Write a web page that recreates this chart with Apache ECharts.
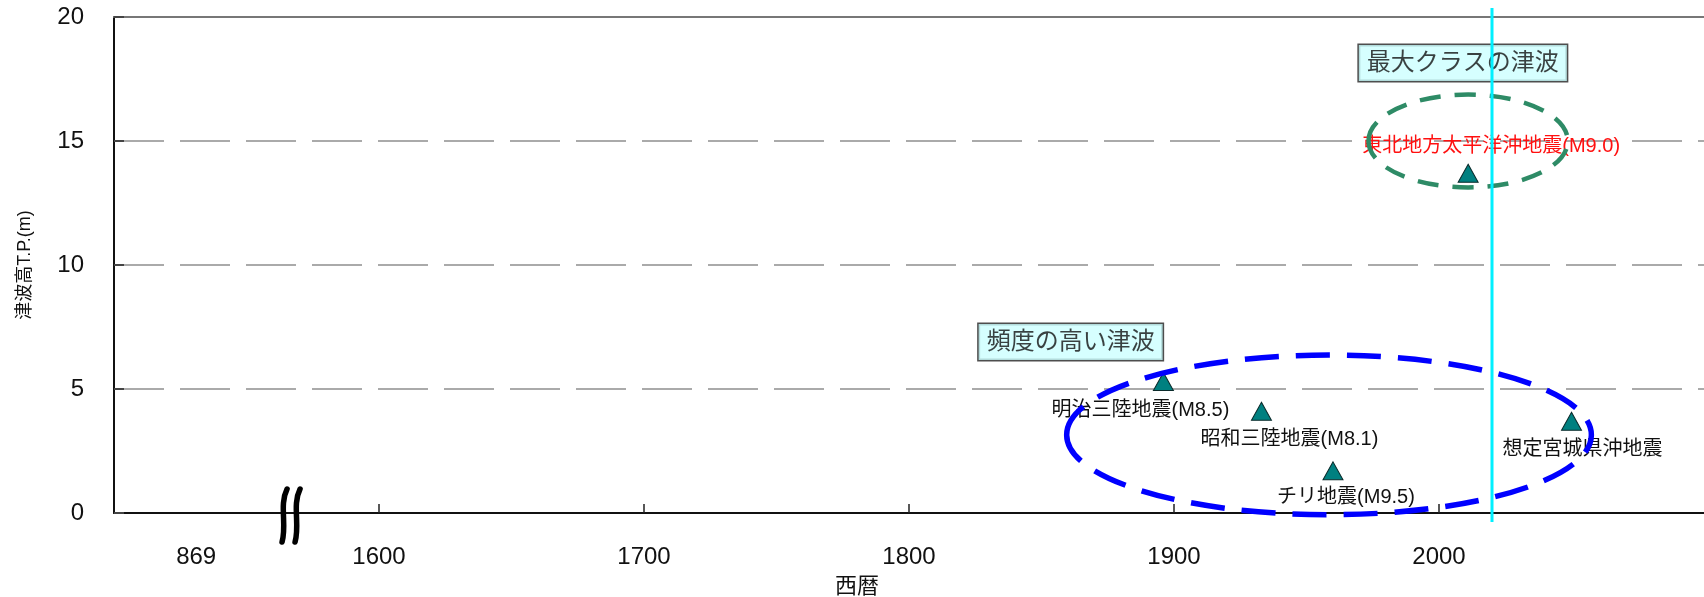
<!DOCTYPE html>
<html><head><meta charset="utf-8">
<script src="https://cdn.jsdelivr.net/npm/echarts@6/dist/echarts.min.js"></script>
<style>html,body{margin:0;padding:0;background:#fff}#c{width:1704px;height:597px}</style>
</head><body><div id="c"></div>
<script>
// ---- data ----
const quakeNames = ['明治三陸地震(M8.5)', '昭和三陸地震(M8.1)', 'チリ地震(M9.5)', '想定宮城県沖地震', '東北地方太平洋沖地震(M9.0)'];
const quakeYears = [1896, 1933, 1960, 2050, 2011];
const quakeHeights = [5.3, 4.1, 1.7, 3.7, 13.7];
const xTickValues = [1531, 1600, 1700, 1800, 1900, 2000];
const xTickLabels = ['869', '1600', '1700', '1800', '1900', '2000'];
const xMajorTicks = [1600, 1700, 1800, 1900, 2000];
const yTickValues = [0, 5, 10, 15, 20];
const groupTitles = ['頻度の高い津波', '最大クラスの津波'];
const groupTitleYears = [1861, 2009];
const groupTitleHeights = [6.9, 18.15];
const ellipseCenterYears = [1958.5, 2011];
const ellipseCenterHeights = [3.15, 15];
const ellipseHalfYears = [99, 37.6];
const ellipseHalfHeights = [3.22, 1.87];
const presentYear = 2020;
const breakYear = 1567;

// ---- styles ----
const FF = "'Liberation Sans', Arial, 'Noto Sans CJK JP', sans-serif";
const labelOffsets = [[-23, 29], [28, 28], [13, 27], [11, 28], [23, -27]];
const labelColors = ['#111', '#111', '#111', '#111', '#ff1010'];
const ellipseColors = ['#0000ff', '#2e8b66'];
const ellipseWidths = [5.5, 4.5];
const ellipseDash = [[34, 17], [21, 14]];

const chart = echarts.init(document.getElementById('c'));

const pointData = quakeNames.map((n, i) => ({
  name: n,
  value: [quakeYears[i], quakeHeights[i]],
  label: { offset: labelOffsets[i], color: labelColors[i] }
}));

const titleData = groupTitles.map((t, i) => ({ name: t, value: [groupTitleYears[i], groupTitleHeights[i]] }));

const ellipseData = ellipseCenterYears.map((y, i) => [y, ellipseCenterHeights[i], ellipseHalfYears[i], ellipseHalfHeights[i]]);

chart.setOption({
  animation: false,
  backgroundColor: '#fff',
  grid: { left: 114, right: 0, top: 17, bottom: 84, containLabel: false, outerBoundsMode: 'none' },
  xAxis: [{
    type: 'value', min: 1500, max: 2100,
    name: '西暦', nameLocation: 'middle', nameGap: 63,
    nameTextStyle: { fontSize: 22, color: '#111', fontFamily: FF, padding: [0, 104, 0, 0] },
    axisLine: { show: true, onZero: false, lineStyle: { color: '#111', width: 2 } },
    axisTick: { show: true, inside: true, length: 9, customValues: xMajorTicks, lineStyle: { color: '#222', width: 1.5 } },
    axisLabel: {
      show: true, customValues: xTickValues, margin: 32, fontSize: 24, color: '#111', fontFamily: FF,
      formatter: v => { const k = xTickValues.indexOf(v); return k >= 0 ? xTickLabels[k] : ''; }
    },
    splitLine: { show: false }
  }, {
    type: 'value', min: 1500, max: 2100, position: 'top',
    axisLine: { show: true, onZero: false, lineStyle: { color: '#777', width: 2 } },
    axisTick: { show: false }, axisLabel: { show: false }, splitLine: { show: false }
  }],
  yAxis: {
    type: 'value', min: 0, max: 20, interval: 5,
    name: '津波高T.P.(m)', nameLocation: 'middle', nameGap: 80,
    nameTextStyle: { fontSize: 18, color: '#111', fontFamily: FF },
    axisLine: { show: true, lineStyle: { color: '#111', width: 2 } },
    axisTick: { show: true, inside: true, length: 10, lineStyle: { color: '#444', width: 2 } },
    axisLabel: { margin: 30, fontSize: 24, color: '#111', fontFamily: FF },
    splitLine: { show: true, lineStyle: { color: '#aaaaaa', width: 2, type: [50, 16] } }
  },
  series: [{
    type: 'scatter', z: 3,
    symbol: 'triangle', symbolSize: [20, 18],
    itemStyle: { color: '#008080', borderColor: '#0b2b2b', borderWidth: 1, opacity: 1 },
    label: {
      show: true, position: 'inside', formatter: p => p.name,
      fontSize: 20, fontFamily: FF, align: 'center', verticalAlign: 'middle'
    },
    data: pointData
  }, {
    type: 'custom', z: 4, coordinateSystem: 'cartesian2d', clip: false,
    renderItem: (params, api) => {
      const i = params.dataIndex;
      const c = api.coord([api.value(0), api.value(1)]);
      const s = api.size([api.value(2), api.value(3)]);
      return {
        type: 'ellipse',
        shape: { cx: c[0], cy: c[1], rx: s[0], ry: s[1] },
        style: { fill: 'none', stroke: ellipseColors[i], lineWidth: ellipseWidths[i], lineDash: ellipseDash[i] }
      };
    },
    data: ellipseData
  }, {
    type: 'scatter', z: 4, symbol: 'rect', symbolSize: 2,
    itemStyle: { color: 'rgba(0,0,0,0)' },
    label: {
      show: true, position: 'inside', formatter: p => p.name,
      fontSize: 24, fontFamily: FF, color: '#111',
      backgroundColor: '#ccffff', borderColor: '#222', borderWidth: 1.5, padding: [6, 8]
    },
    data: titleData
  }, {
    type: 'custom', z: 6, coordinateSystem: 'cartesian2d', clip: false,
    renderItem: (params, api) => {
      if (params.dataIndex === 0) {
        const top = api.coord([presentYear, 20]);
        const bot = api.coord([presentYear, 0]);
        return { type: 'line', shape: { x1: top[0], y1: top[1] - 9, x2: bot[0], y2: bot[1] + 9 },
          style: { stroke: '#00f0ff', lineWidth: 3 } };
      }
      const b = api.coord([breakYear, 0]);
      const mk = dx => ({
        type: 'bezierCurve',
        shape: { x1: b[0] + dx + 2, y1: b[1] - 24, cpx1: b[0] + dx - 6, cpy1: b[1] - 8,
                 cpx2: b[0] + dx + 2, cpy2: b[1] + 12, x2: b[0] + dx - 3, y2: b[1] + 29 },
        style: { fill: 'none', stroke: '#000', lineWidth: 5.5, lineCap: 'round' }
      });
      return { type: 'group', children: [mk(-6.5), mk(6.5)] };
    },
    data: [[presentYear, 0], [breakYear, 0]]
  }]
});
</script></body></html>
